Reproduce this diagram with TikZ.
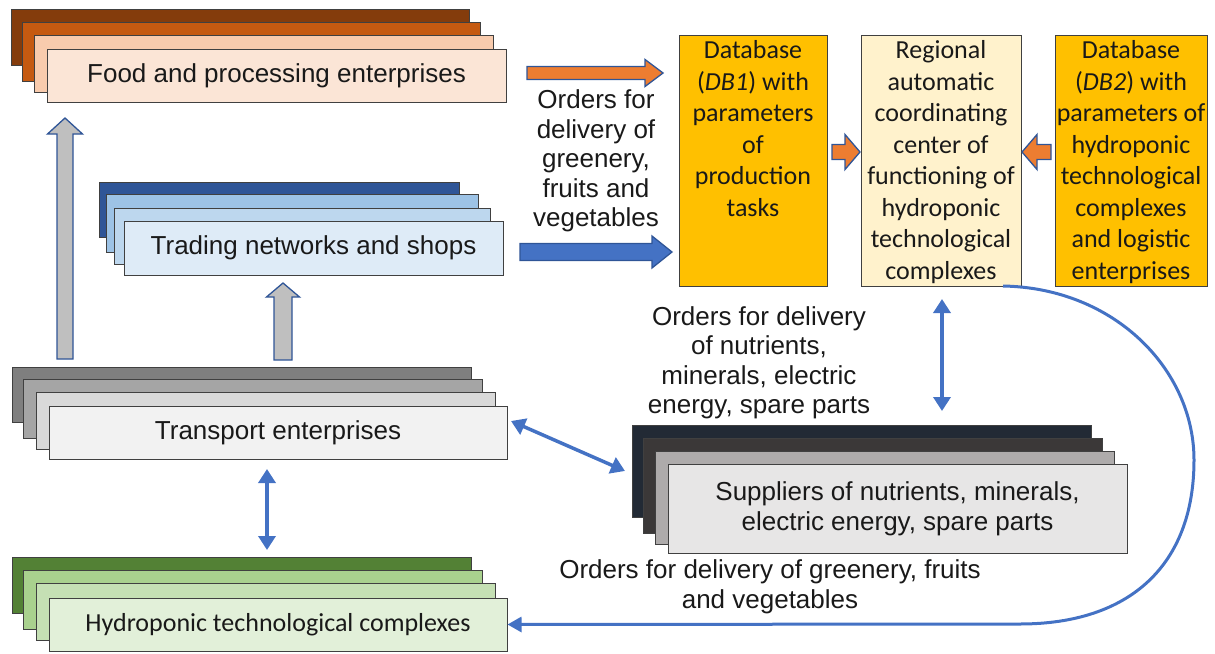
\documentclass[tikz,border=0pt]{standalone}
\usepackage{fontspec}
\setmainfont{Liberation Sans}
\newfontfamily\calfont{Carlito}
\usetikzlibrary{arrows.meta,calc}
\definecolor{foodA}{HTML}{843C0C}\definecolor{foodB}{HTML}{C55A11}\definecolor{foodC}{HTML}{F8CBAD}\definecolor{foodD}{HTML}{FBE5D6}
\definecolor{trA}{HTML}{2F5597}\definecolor{trB}{HTML}{9DC3E6}\definecolor{trC}{HTML}{BDD7EE}\definecolor{trD}{HTML}{DEEBF7}
\definecolor{tpA}{HTML}{7F7F7F}\definecolor{tpB}{HTML}{A5A5A5}\definecolor{tpC}{HTML}{D9D9D9}\definecolor{tpD}{HTML}{F2F2F2}
\definecolor{hyA}{HTML}{538135}\definecolor{hyB}{HTML}{A9D18E}\definecolor{hyC}{HTML}{C5E0B4}\definecolor{hyD}{HTML}{E2F0D9}
\definecolor{spA}{HTML}{222A35}\definecolor{spB}{HTML}{3B3838}\definecolor{spC}{HTML}{AEABAB}\definecolor{spD}{HTML}{E7E6E6}
\definecolor{dbY}{HTML}{FFC000}\definecolor{regY}{HTML}{FFF2CC}
\definecolor{arrO}{HTML}{ED7D31}\definecolor{arrB}{HTML}{4472C4}\definecolor{arrEdge}{HTML}{2F5597}\definecolor{arrG}{HTML}{BFBFBF}
\newcommand\harrowshape[6]{\draw[#1] let \p1=(#2), \p2=(#3) in
 (\x1,{\y1+#4pt}) -- ({\x2-(#6pt)},{\y1+#4pt}) -- ({\x2-(#6pt)},{\y1+#5pt}) -- (\x2,\y1) -- ({\x2-(#6pt)},{\y1-#5pt}) -- ({\x2-(#6pt)},{\y1-#4pt}) -- (\x1,{\y1-#4pt}) -- cycle;}
\newcommand\varrowshape[6]{\draw[#1] let \p1=(#2), \p2=(#3) in
 ({\x1-#4pt},\y1) -- ({\x1-#4pt},{\y2-(#6pt)}) -- ({\x1-#5pt},{\y2-(#6pt)}) -- (\x1,\y2) -- ({\x1+#5pt},{\y2-(#6pt)}) -- ({\x1+#4pt},{\y2-(#6pt)}) -- ({\x1+#4pt},\y1) -- cycle;}
\begin{document}
\begin{tikzpicture}[x=1pt,y=-1pt,
  layer/.style={draw=black!75, line width=1pt},
  front/.style={draw=black!75, line width=1pt, inner sep=0pt, font=\fontsize{26}{30}\selectfont, text=black!90},
  dbbox/.style={draw=black!75, line width=1pt, inner sep=0pt},
  caltext/.style={font=\calfont\fontsize{26}{31.5}\selectfont, align=center, inner sep=0pt, text=black!90},
  ordtext/.style={font=\fontsize{26}{29.5}\selectfont, align=center, inner sep=0pt, text=black!90},
  blockO/.style={fill=arrO, draw=arrEdge, line width=1.3pt, line join=miter},
  blockB/.style={fill=arrB, draw=arrEdge, line width=1.3pt, line join=miter},
  blockG/.style={fill=arrG, draw=arrEdge, line width=1.3pt, line join=miter},
  thin/.style={draw=arrB, line width=3.5pt},
  dbl/.style={thin, {Triangle[length=14pt,width=17pt]}-{Triangle[length=14pt,width=17pt]}}
]
\useasboundingbox (0,0) rectangle (1215,653);
% Food stack
\draw[layer, fill=foodA] (11,9) rectangle (469,65);
\draw[layer, fill=foodB] (22,22) rectangle (480,81);
\draw[layer, fill=foodC] (34,35) rectangle (493,92);
\node[front, fill=foodD, minimum width=459pt, minimum height=53pt] (food) at (276.5,75.5) {Food and processing enterprises};
% Trading stack
\draw[layer, fill=trA] (99,182) rectangle (459,237);
\draw[layer, fill=trB] (106,194) rectangle (478,252);
\draw[layer, fill=trC] (114,208) rectangle (490,264);
\node[front, fill=trD, minimum width=379pt, minimum height=54pt] (trade) at (313.5,248) {Trading networks and shops};
% Transport stack
\draw[layer, fill=tpA] (12,367) rectangle (471,422);
\draw[layer, fill=tpB] (23,379) rectangle (482,438);
\draw[layer, fill=tpC] (36,392) rectangle (495,449);
\node[front, fill=tpD, minimum width=458pt, minimum height=53pt] (trans) at (278,432.5) {Transport enterprises};
% Hydroponic stack
\draw[layer, fill=hyA] (12,557) rectangle (471,613);
\draw[layer, fill=hyB] (23,570) rectangle (482,629);
\draw[layer, fill=hyC] (36,583) rectangle (495,640);
\node[front, fill=hyD, minimum width=458pt, minimum height=53pt, font=\calfont\fontsize{26}{31}\selectfont] (hydro) at (278,624.5) {Hydroponic technological complexes};
% Suppliers stack
\draw[layer, fill=spA] (632,425) rectangle (1091,517);
\draw[layer, fill=spB] (643,438) rectangle (1102,533);
\draw[layer, fill=spC] (655,451) rectangle (1114,544);
\node[front, fill=spD, minimum width=459pt, minimum height=89pt, align=center] (supp) at (897.5,508.5) {Suppliers of nutrients, minerals,\\electric energy, spare parts};
% Database boxes
\node[dbbox, fill=dbY, minimum width=148pt, minimum height=251pt] (db1) at (753,160.5) {};
\node[dbbox, fill=regY, minimum width=160pt, minimum height=251pt] (reg) at (941,160.5) {};
\node[dbbox, fill=dbY, minimum width=152pt, minimum height=251pt] (db2) at (1131,160.5) {};
\node[caltext, anchor=north] (db1t) at ($(db1.north)+(0,6)$) {Database\\(\textit{DB1}) with\\parameters\\of\\production\\tasks};
\node[caltext, anchor=north] (regt) at ($(reg.north)+(0,6)$) {Regional\\automatic\\coordinating\\center of\\functioning of\\hydroponic\\technological\\complexes};
\node[caltext, anchor=north] (db2t) at ($(db2.north)+(0,6)$) {Database\\(\textit{DB2}) with\\parameters of\\hydroponic\\technological\\complexes\\and logistic\\enterprises};
% Texts
\node[ordtext] (ord1) at (596,161) {Orders for\\delivery of\\greenery,\\fruits and\\vegetables};
\node[ordtext] (ord2) at (759,363) {Orders for delivery\\of nutrients,\\minerals, electric\\energy, spare parts};
\node[ordtext] (ord3) at (770,587) {Orders for delivery of greenery, fruits\\and vegetables};
% Block arrows
\coordinate (oA) at (527,73); \coordinate (oB) at (663,73);
\harrowshape{blockO}{oA}{oB}{6.5}{13.5}{18}
\coordinate (bA) at (520,252); \coordinate (bB) at (672,252);
\harrowshape{blockB}{bA}{bB}{8.5}{16}{20}
\coordinate (s1A) at (832,152); \coordinate (s1B) at (860,152);
\harrowshape{blockO}{s1A}{s1B}{7.5}{17.5}{15}
\coordinate (s2A) at (1051,152); \coordinate (s2B) at (1022,152);
\harrowshape{blockO}{s2A}{s2B}{7.5}{17.5}{-15}
\coordinate (g1A) at (65,359); \coordinate (g1B) at (65,118);
\varrowshape{blockG}{g1A}{g1B}{8}{17.5}{16}
\coordinate (g2A) at (283,360); \coordinate (g2B) at (283,283);
\varrowshape{blockG}{g2A}{g2B}{9}{16.5}{14}
% Thin blue arrows
\coordinate (v1A) at (267,469); \coordinate (v1B) at (267,550);
\draw[dbl] (v1A) -- (v1B);
\coordinate (dA) at (511,421); \coordinate (dB) at (625,471);
\draw[dbl] (dA) -- (dB);
\coordinate (v2A) at (942,299); \coordinate (v2B) at (942,411);
\draw[dbl] (v2A) -- (v2B);
\coordinate (cs) at (1003,286);
\draw[draw=arrB, line width=3pt, -{Triangle[length=14pt,width=15pt]}] (cs) .. controls (1115,288) and (1194,370) .. (1194,460) .. controls (1194,565) and (1130,624) .. (1020,624) -- (hydro.east);
\end{tikzpicture}
\end{document}
